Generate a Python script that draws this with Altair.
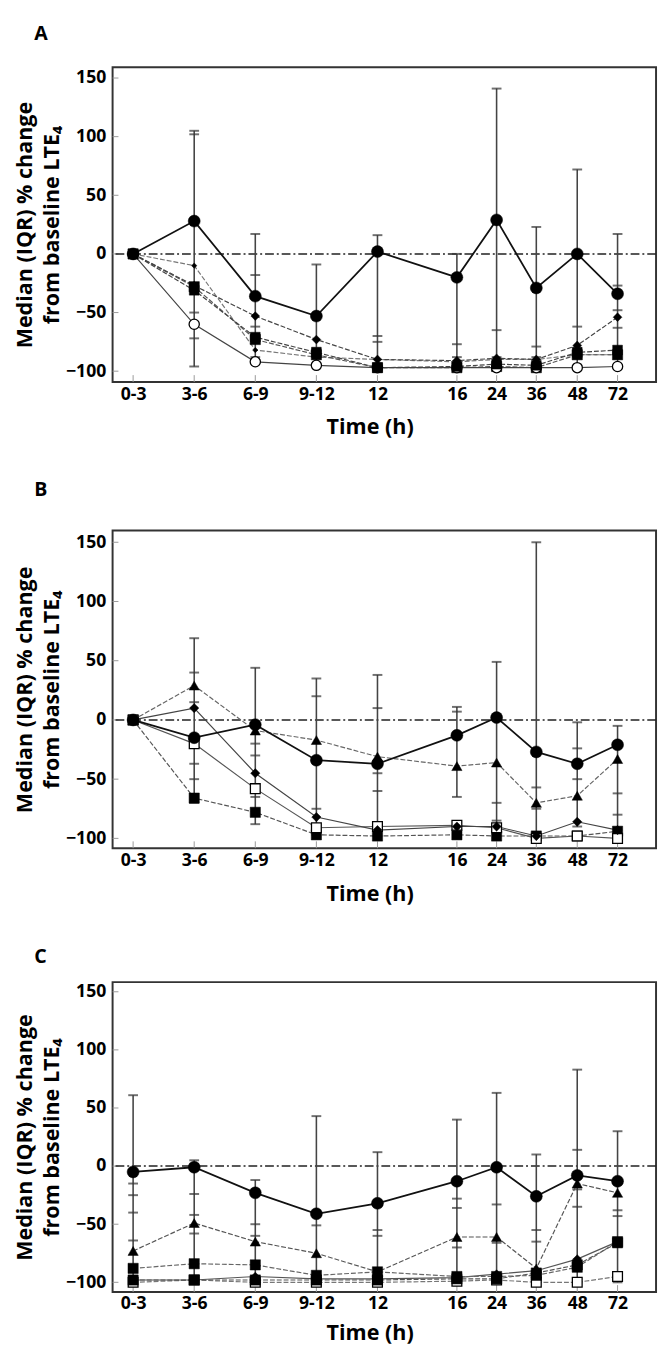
import altair as alt
import pandas as pd

times = ["0-3", "3-6", "6-9", "9-12", "12", "16", "24", "36", "48", "72"]
slots = [0, 1, 2, 3, 4, 5.3, 5.95, 6.6, 7.27, 7.93]
y_ticks = [-100, -50, 0, 50, 100, 150]

# ---------------- Panel A (medians) ----------------
a_circle = [0, 28, -36, -53, 2, -20, 29, -29, 0, -34]
a_diamond = [0, -27, -53, -73, -90, -91, -89, -90, -78, -54]
a_square = [0, -31, -71, -84, -97, -96, -94, -95, -84, -82]
a_dot = [0, -10, -82, -88, -90, -92, -90, -90, -86, -86]
a_square2 = [0, -28, -73, -86, -97, -97, -96, -97, -86, -86]
a_open = [0, -60, -92, -95, -97, -97, -97, -97, -97, -96]
# IQR whiskers (index into times, low, high)
a_err_idx = [1, 2, 3, 4, 5, 6, 7, 8, 9]
a_err_lo = [-96, -93, -97, -97, -97, -97, -97, -97, -97]
a_err_hi = [105, 17, -9, 16, 0, 141, 23, 72, 17]
a_cap_idx = [1, 1, 1, 2, 2, 2, 3, 4, 4, 5, 5, 6, 6, 7, 7, 8, 8, 9, 9, 9]
a_cap_val = [102, -72, -50, -18, -62, -88, -80, -70, -75, -77, -88, -65, -88, -79, -88, -62, -80, -27, -48, -63]

# ---------------- Panel B (medians) ----------------
b_circle = [0, -15, -4, -34, -37, -13, 2, -27, -37, -21]
b_triangle = [0, 29, -9, -17, -31, -39, -36, -70, -64, -33]
b_diamond = [0, 10, -45, -82, -93, -90, -90, -98, -86, -93]
b_open = [0, -20, -58, -91, -90, -89, -91, -100, -98, -100]
b_square = [0, -66, -78, -97, -98, -97, -98, -98, -98, -94]
b_err_idx = [1, 2, 3, 4, 5, 6, 7, 8, 9]
b_err_lo = [-70, -88, -97, -98, -65, -90, -100, -90, -98]
b_err_hi = [69, 44, 35, 38, 11, 49, 150, -2, -5]
b_cap_idx = [1, 1, 1, 1, 2, 2, 2, 3, 3, 4, 4, 4, 5, 6, 6, 7, 7, 8, 8, 9, 9]
b_cap_val = [40, 15, -37, -50, -20, -30, -65, 20, -75, 10, -45, -60, 7, -70, -85, -57, -75, -24, -50, -62, -80]

# ---------------- Panel C (medians) ----------------
c_circle = [-5, -1, -23, -41, -32, -13, -1, -26, -8, -13]
c_triangle = [-73, -49, -65, -75, -91, -61, -61, -88, -15, -23]
c_square = [-88, -84, -85, -94, -91, -95, -95, -94, -87, -65]
c_diamond = [-98, -98, -95, -97, -97, -96, -93, -90, -80, -65]
c_square2 = [-98, -98, -98, -98, -98, -97, -97, -92, -85, -66]
c_open = [-100, -98, -100, -100, -100, -99, -98, -100, -100, -95]
c_err_idx = [0, 1, 2, 3, 4, 5, 6, 7, 8, 9]
c_err_lo = [-100, -100, -100, -100, -100, -100, -100, -100, -100, -100]
c_err_hi = [61, 5, -12, 43, 12, 40, 63, 10, 83, 30]
c_cap_idx = [0, 0, 0, 0, 1, 1, 1, 1, 2, 2, 3, 4, 4, 5, 5, 5, 6, 6, 7, 7, 8, 8, 8, 9, 9]
c_cap_val = [-15, -25, -40, -64, 2, -24, -42, -58, -50, -60, -51, -55, -60, -28, -36, -70, -33, -66, -55, -65, 14, -20, -35, -38, -43]

XDOM = [-0.336, 8.56]
FONT = "Open Sans"
label_expr = " : ".join(f"datum.value == {s} ? '{t}'" for s, t in zip(slots, times)) + " : ''"
Y_TITLE = ["Median (IQR) % change", "from baseline LTE\u2084"]

common_axis = dict(ticks=False, domain=False, grid=False,
                   labelFont=FONT, labelFontSize=18, labelFontWeight="bold", labelColor="black",
                   titleFont=FONT, titleFontWeight="bold", titleColor="black")
y_axis = alt.Axis(values=y_ticks, labelPadding=7, titlePadding=2, title=Y_TITLE,
                  titleFontSize=22, titleLineHeight=28, **common_axis)


def panel(letter, series, err_idx, err_lo, err_hi, cap_idx, cap_val, ydom, h, toff, lpad, tpad):
    x_axis = alt.Axis(values=slots, labelExpr=label_expr, title="Time (h)", labelPadding=lpad,
                      titlePadding=tpad, titleFontSize=22, titleX=263, labelFlush=False,
                      **common_axis)
    xs = alt.Scale(domain=XDOM, nice=False, zero=False)
    ys = alt.Scale(domain=ydom, nice=False, zero=False)
    X = lambda f: alt.X(f, type="quantitative", scale=xs, axis=x_axis, title="Time (h)")
    Y = lambda f: alt.Y(f, type="quantitative", scale=ys, axis=y_axis, title=Y_TITLE)

    err = pd.DataFrame({"x": [slots[i] for i in err_idx], "lo": err_lo, "hi": err_hi})
    caps = pd.DataFrame({
        "x": [slots[i] for i in err_idx] * 2 + [slots[i] for i in cap_idx],
        "v": list(err_lo) + list(err_hi) + list(cap_val),
    })
    ytk = pd.DataFrame({"v": y_ticks})
    xtk = pd.DataFrame({"x": slots})

    layers = []
    layers.append(alt.Chart(ytk).mark_rule(color="#999", strokeWidth=1).encode(
        y=Y("v"), x=alt.value(0), x2=alt.value(6)))
    layers.append(alt.Chart(xtk).mark_rule(color="#999", strokeWidth=1).encode(
        x=X("x"), y=alt.value(h - 7), y2=alt.value(h)))
    layers.append(alt.Chart(pd.DataFrame({"v": [0]})).mark_rule(
        color="#222", strokeWidth=1.5, strokeDash=[9, 3, 2, 3]).encode(y=Y("v")))
    layers.append(alt.Chart(err).mark_rule(color="#444", strokeWidth=1.6).encode(
        x=X("x"), y=Y("lo"), y2="hi"))
    layers.append(alt.Chart(caps).mark_tick(orient="horizontal", size=10, thickness=2,
                                            color="#333").encode(x=X("x"), y=Y("v")))
    for vals, shape, filled, size, lcol, dash, lw in series:
        df = pd.DataFrame({"x": slots, "v": vals})
        lm = dict(color=lcol, strokeWidth=lw)
        if dash:
            lm["strokeDash"] = dash
        layers.append(alt.Chart(df).mark_line(**lm).encode(x=X("x"), y=Y("v")))
    for vals, shape, filled, size, lcol, dash, lw in series:
        df = pd.DataFrame({"x": slots, "v": vals})
        layers.append(alt.Chart(df).mark_point(
            shape=shape, size=size, filled=True, opacity=1,
            fill="black" if filled else "white", stroke="black", strokeWidth=1.3 if not filled else 0.5
        ).encode(x=X("x"), y=Y("v")))
    return alt.layer(*layers).properties(
        width=556, height=h,
        view=alt.ViewBackground(stroke="#333", strokeWidth=2),
        title=alt.TitleParams(letter, anchor="start", font=FONT, fontSize=20, fontWeight="bold",
                              offset=toff, dx=21, color="black", baseline="top"))


DASH = [5, 2]
seriesA = [
    (a_dot, "diamond", True, 30, "#777", DASH, 1.2),
    (a_square2, "square", True, 110, "#555", DASH, 1.2),
    (a_open, "circle", False, 110, "#444", None, 1.2),
    (a_square, "square", True, 100, "#444", DASH, 1.2),
    (a_diamond, "diamond", True, 80, "#444", DASH, 1.2),
    (a_circle, "circle", True, 150, "#111", None, 1.8),
]
seriesB = [
    (b_square, "square", True, 110, "#555", DASH, 1.2),
    (b_open, "square", False, 100, "#555", None, 1.2),
    (b_diamond, "diamond", True, 90, "#444", None, 1.2),
    (b_triangle, "triangle-up", True, 110, "#666", DASH, 1.2),
    (b_circle, "circle", True, 150, "#111", None, 1.8),
]
seriesC = [
    (c_open, "square", False, 100, "#777", DASH, 1.2),
    (c_square2, "square", True, 110, "#555", DASH, 1.2),
    (c_diamond, "diamond", True, 80, "#555", None, 1.2),
    (c_square, "square", True, 110, "#666", DASH, 1.2),
    (c_triangle, "triangle-up", True, 110, "#555", DASH, 1.2),
    (c_circle, "circle", True, 150, "#111", None, 1.8),
]

pA = panel("A", seriesA, a_err_idx, a_err_lo, a_err_hi, a_cap_idx, a_cap_val,
           [-109.2, 159.2], 322, 24, 4, 14)
pB = panel("B", seriesB, b_err_idx, b_err_lo, b_err_hi, b_cap_idx, b_cap_val,
           [-108.3, 159.9], 325, 31, 4, 14)
pC = panel("C", seriesC, c_err_idx, c_err_lo, c_err_hi, c_cap_idx, c_cap_val,
           [-108.3, 158.3], 317, 16, 3, 11)

chart = alt.vconcat(pA, pB, pC, spacing=42).properties(
    padding={"left": 4, "top": 0, "right": 0, "bottom": 0}
).configure_view(
    stroke="#333", strokeWidth=2
).configure(background="white")

chart.save("out.html", embed_options={"renderer": "svg", "actions": False})
